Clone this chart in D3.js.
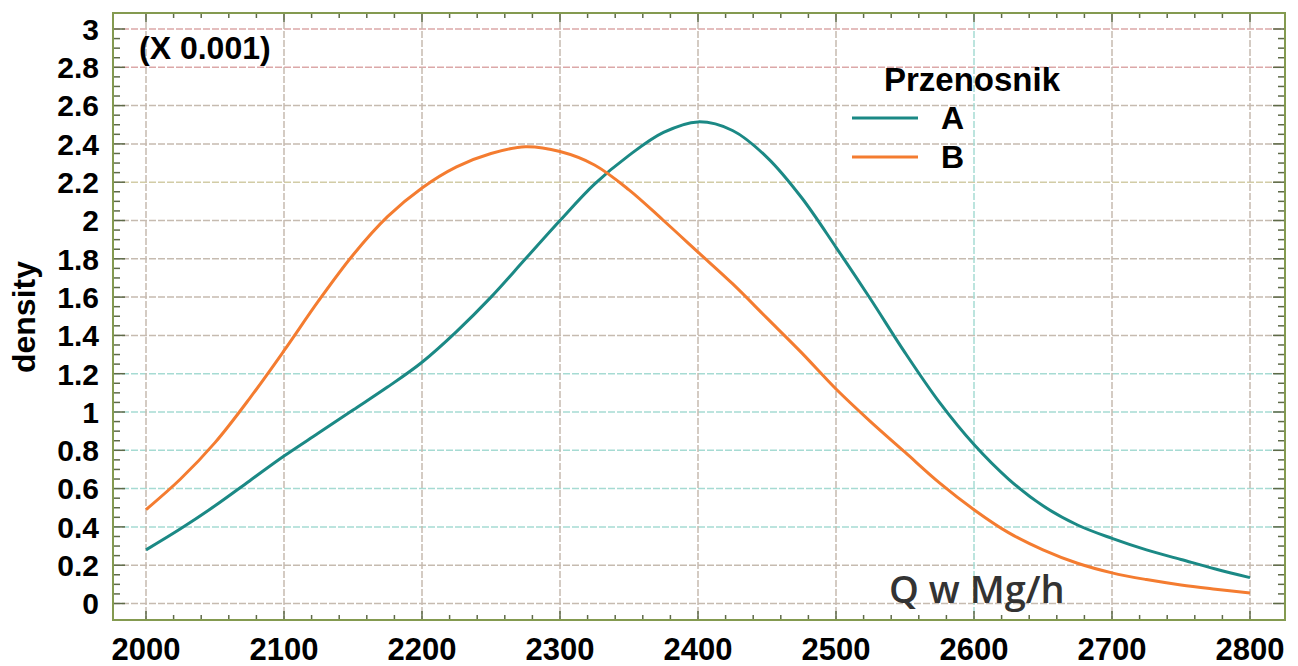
<!DOCTYPE html>
<meta charset="utf-8">
<script src="https://d3js.org/d3.v7.min.js"></script>
<style>
  body { margin: 0; background: #fff; }
  text { font-family: "Liberation Sans", Arial, sans-serif; }
</style>
<div id="chart"></div>
<script>
// Q values (Mg/h) at which the density curves were read
var qA = [2000, 2025, 2050, 2075, 2100, 2125, 2150, 2175, 2200, 2225, 2250, 2275, 2300, 2325, 2350, 2375, 2400, 2425, 2450, 2475, 2500, 2525, 2550, 2575, 2600, 2625, 2650, 2675, 2700, 2725, 2750, 2775, 2800];
// density x 1000, przenosnik A
var densA = [0.28, 0.39, 0.51, 0.64, 0.77, 0.89, 1.01, 1.13, 1.26, 1.42, 1.60, 1.80, 2.00, 2.19, 2.34, 2.46, 2.515, 2.47, 2.33, 2.12, 1.86, 1.59, 1.31, 1.05, 0.83, 0.65, 0.51, 0.41, 0.34, 0.28, 0.23, 0.18, 0.135];
// density x 1000, przenosnik B
var densB = [0.49, 0.65, 0.84, 1.07, 1.32, 1.58, 1.82, 2.02, 2.17, 2.28, 2.35, 2.385, 2.36, 2.29, 2.16, 2.00, 1.835, 1.67, 1.49, 1.31, 1.12, 0.95, 0.79, 0.63, 0.49, 0.37, 0.28, 0.21, 0.16, 0.125, 0.097, 0.075, 0.055];

var seriesNames = ["A", "B"];
var seriesColors = ["#1b8985", "#f47c30"];
var xTicks = [2000, 2100, 2200, 2300, 2400, 2500, 2600, 2700, 2800];
var yTicks = [0, 0.2, 0.4, 0.6, 0.8, 1, 1.2, 1.4, 1.6, 1.8, 2, 2.2, 2.4, 2.6, 2.8, 3];

var W = 1298, H = 666;
var frame = {left: 113, right: 1285, top: 13, bottom: 620};

var svg = d3.select("#chart").append("svg")
  .attr("width", W).attr("height", H);

var x = d3.scaleLinear().domain([2000, 2800]).range([146, 1250]);
var y = d3.scaleLinear().domain([0, 3]).range([603.5, 29]);

// grid colours change a bit across the picture
function hColor(v) {
  if (v >= 2.75) return "#dca8a8";
  if (v > 2.15 && v < 2.25) return "#d2cca6";
  if (v > 0.3 && v < 1.3) return "#a6dbd3";
  return "#c6bbb0";
}
function vColor(v) {
  return v == 2600 ? "#a6dbd3" : "#c6bbb0";
}

var grid = svg.append("g");
grid.selectAll(".hg").data(yTicks).enter().append("line")
  .attr("x1", frame.left).attr("x2", frame.right)
  .attr("y1", function(d) { return y(d); }).attr("y2", function(d) { return y(d); })
  .attr("stroke", hColor).attr("stroke-width", 1.5)
  .attr("stroke-dasharray", "7,2");
grid.selectAll(".vg").data(xTicks).enter().append("line")
  .attr("y1", frame.top).attr("y2", frame.bottom)
  .attr("x1", function(d) { return x(d); }).attr("x2", function(d) { return x(d); })
  .attr("stroke", vColor).attr("stroke-width", 1.5)
  .attr("stroke-dasharray", "7,2");

// minor and major ticks on all four sides, pointing inwards
var tickColor = "#5e6a48";
var xMinor = d3.range(2000, 2801, 20);
var yMinor = d3.range(0, 3.001, 0.05);
var ticks = svg.append("g").attr("stroke", tickColor).attr("stroke-width", 1.5);
xMinor.forEach(function(v) {
  var major = Math.abs(v % 100) < 1e-6;
  var len = major ? 9 : 5;
  ticks.append("line").attr("x1", x(v)).attr("x2", x(v))
    .attr("y1", frame.bottom).attr("y2", frame.bottom - len);
  ticks.append("line").attr("x1", x(v)).attr("x2", x(v))
    .attr("y1", frame.top).attr("y2", frame.top + len);
});
yMinor.forEach(function(v) {
  var major = Math.abs(Math.round(v * 5) - v * 5) < 1e-6;
  var len = major ? 12 : 7;
  ticks.append("line").attr("y1", y(v)).attr("y2", y(v))
    .attr("x1", frame.left).attr("x2", frame.left + len);
  ticks.append("line").attr("y1", y(v)).attr("y2", y(v))
    .attr("x1", frame.right).attr("x2", frame.right - len);
});

// frame
svg.append("rect")
  .attr("x", frame.left).attr("y", frame.top)
  .attr("width", frame.right - frame.left).attr("height", frame.bottom - frame.top)
  .attr("fill", "none").attr("stroke", "#849a50").attr("stroke-width", 2);

// curves
var line = d3.line()
  .x(function(d) { return x(d[0]); })
  .y(function(d) { return y(d[1]); })
  .curve(d3.curveCatmullRom.alpha(0.5));
[densA, densB].forEach(function(vals, i) {
  svg.append("path")
    .datum(qA.map(function(q, j) { return [q, vals[j]]; }))
    .attr("fill", "none")
    .attr("stroke", seriesColors[i])
    .attr("stroke-width", 3)
    .attr("d", line);
});

// tick labels
svg.append("g").selectAll("text").data(yTicks).enter().append("text")
  .attr("x", 99).attr("y", function(d) { return y(d); })
  .attr("dy", "0.36em")
  .attr("text-anchor", "end")
  .style("font-size", "30px").style("font-weight", "bold")
  .text(function(d) { return d; });
svg.append("g").selectAll("text").data(xTicks).enter().append("text")
  .attr("x", function(d) { return x(d); }).attr("y", 660)
  .attr("text-anchor", "middle")
  .style("font-size", "31px").style("font-weight", "bold")
  .text(function(d) { return d; });

// axis titles and notes
svg.append("text")
  .attr("transform", "translate(35,317) rotate(-90)")
  .attr("text-anchor", "middle")
  .style("font-size", "32px").style("font-weight", "bold")
  .text("density");
svg.append("text")
  .attr("x", 139).attr("y", 59)
  .style("font-size", "32px").style("font-weight", "bold")
  .text("(X 0.001)");
svg.append("text")
  .attr("x", 889).attr("y", 603)
  .style("font-family", "'Open Sans', sans-serif")
  .style("font-size", "38px").style("font-weight", 600)
  .attr("fill", "#333")
  .text("Q w Mg/h");

// legend
svg.append("text")
  .attr("x", 884).attr("y", 91)
  .style("font-size", "33px").style("font-weight", "bold")
  .text("Przenosnik");
seriesNames.forEach(function(name, i) {
  var ly = 118 + i * 39;
  svg.append("line")
    .attr("x1", 852).attr("x2", 918).attr("y1", ly).attr("y2", ly)
    .attr("stroke", seriesColors[i]).attr("stroke-width", 3);
  svg.append("text")
    .attr("x", 941).attr("y", ly + 11)
    .style("font-size", "32px").style("font-weight", "bold")
    .text(name);
});
</script>
